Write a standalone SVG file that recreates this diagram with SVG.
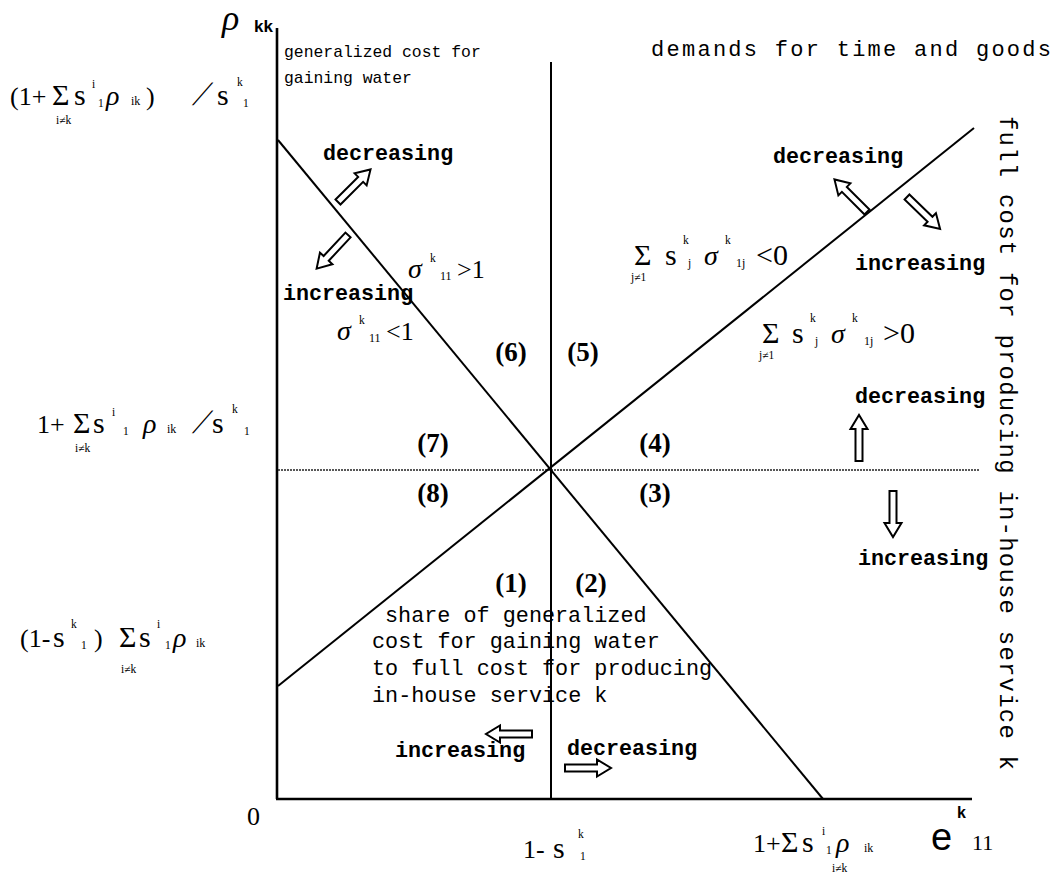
<svg xmlns="http://www.w3.org/2000/svg" xmlns:xlink="http://www.w3.org/1999/xlink" width="1061" height="878" viewBox="0 0 1061 878">
<style>
.ln{stroke:#000;stroke-width:2;fill:none}
.ax{stroke:#000;stroke-width:2.6;fill:none}
.dot{stroke:#222;stroke-width:1.3;stroke-dasharray:2 1;fill:none}
.arr{fill:#fff;stroke:#000;stroke-width:2;stroke-linejoin:miter}
.mono{font-family:"Liberation Mono",monospace;fill:#000}
.wd{font-family:"Liberation Mono",monospace;font-weight:bold;font-size:21.7px;fill:#000}
.cap{font-family:"Liberation Mono",monospace;font-size:21.8px;fill:#000}
.s{font-family:"Liberation Serif",serif;fill:#000}
.big{font-size:26px}
.sg{font-size:30px}
.it{font-style:italic;font-size:28px}
.sm{font-size:11.5px}
.reg{font-family:"Liberation Serif",serif;font-weight:bold;font-size:27px;text-anchor:middle;fill:#000}
.sans{font-family:"Liberation Sans",sans-serif;fill:#000}
</style>
<defs>
<path id="blk" d="M0,-3.5 H32 V-8.5 L46,0 L32,8.5 V3.5 H0 Z"/>
</defs>
<rect width="1061" height="878" fill="#fff"/>

<g id="connectors">
<line class="ax" x1="277" y1="28" x2="277" y2="799"/>
<line class="ax" x1="276" y1="799" x2="972" y2="799"/>
<line class="ln" x1="551" y1="62" x2="551" y2="799"/>
<line class="dot" x1="278" y1="470" x2="980" y2="470"/>
<line class="ln" x1="278" y1="140" x2="823" y2="799"/>
<line class="ln" x1="278" y1="686" x2="974" y2="128"/>
</g>

<g id="arrows">
<use xlink:href="#blk" class="arr" transform="translate(338,202) rotate(-45)"/>
<use xlink:href="#blk" class="arr" transform="translate(348,235) rotate(133)"/>
<use xlink:href="#blk" class="arr" transform="translate(867,212) rotate(-135)"/>
<use xlink:href="#blk" class="arr" transform="translate(907,197) rotate(44)"/>
<use xlink:href="#blk" class="arr" transform="translate(859,461) rotate(-90)"/>
<use xlink:href="#blk" class="arr" transform="translate(893,491) rotate(90)"/>
<use xlink:href="#blk" class="arr" transform="translate(532,734) rotate(180)"/>
<use xlink:href="#blk" class="arr" transform="translate(565,768)"/>
</g>

<g id="axis-y-label">
<text class="s" x="222" y="30" font-style="italic" font-size="36">ρ</text>
<text class="sans" x="254" y="32" font-weight="bold" font-size="17">kk</text>
</g>

<g id="axis-x-label">
<text class="sans" x="931" y="850" font-size="38">e</text>
<text class="sans" x="957" y="818" font-weight="bold" font-size="16">k</text>
<text class="s" x="972" y="850" font-size="22">11</text>
</g>

<g id="titles">
<text class="mono" x="284" y="57" font-size="16.4">generalized cost for</text>
<text class="mono" x="284" y="83" font-size="16.4">gaining water</text>
<text class="mono" x="651" y="56" font-size="22" textLength="400" lengthAdjust="spacing">demands for time and goods</text>
<text class="mono" font-size="24" transform="translate(1000,116) rotate(90)" textLength="654" lengthAdjust="spacing">full cost for producing in-house service k</text>
</g>

<g id="share-note">
<text class="cap" x="385" y="622">share of generalized</text>
<text class="cap" x="372" y="648">cost for gaining water</text>
<text class="cap" x="372" y="675">to full cost for producing</text>
<text class="cap" x="372" y="702">in-house service k</text>
</g>

<g id="direction-words">
<text class="wd" x="323" y="160">decreasing</text>
<text class="wd" x="283" y="300">increasing</text>
<text class="wd" x="773" y="163">decreasing</text>
<text class="wd" x="855" y="270">increasing</text>
<text class="wd" x="855" y="403">decreasing</text>
<text class="wd" x="858" y="565">increasing</text>
<text class="wd" x="395" y="757">increasing</text>
<text class="wd" x="567" y="755">decreasing</text>
</g>

<g id="regions">
<text class="reg" x="511" y="592">(1)</text>
<text class="reg" x="591" y="592">(2)</text>
<text class="reg" x="655" y="502">(3)</text>
<text class="reg" x="655" y="452">(4)</text>
<text class="reg" x="583" y="361">(5)</text>
<text class="reg" x="511" y="361">(6)</text>
<text class="reg" x="433" y="452">(7)</text>
<text class="reg" x="433" y="502">(8)</text>
</g>

<g id="y-values">
<g id="y1">
<text class="s big" x="10" y="105">(1+</text>
<text class="s sg" x="52" y="105">Σ</text>
<text class="s sg" x="74" y="105">s</text>
<text class="s sm" x="92" y="88">i</text>
<text class="s sm" x="98" y="107">1</text>
<text class="s it" x="106" y="105">ρ</text>
<text class="s" x="131" y="105" font-size="12">ik</text>
<text class="s big" x="146" y="105">)</text>
<text class="s" font-size="34" transform="translate(192,105) skewX(-28)">/</text>
<text class="s sg" x="217" y="105">s</text>
<text class="s sm" x="237" y="86">k</text>
<text class="s sm" x="243" y="107">1</text>
<text class="s sm" x="56" y="124">i≠k</text>
</g>
<g id="y2">
<text class="s big" x="37" y="433">1+</text>
<text class="s sg" x="73" y="433">Σ</text>
<text class="s sg" x="93" y="433">s</text>
<text class="s sm" x="112" y="416">i</text>
<text class="s sm" x="123" y="435">1</text>
<text class="s it" x="143" y="433">ρ</text>
<text class="s" x="167" y="433" font-size="12">ik</text>
<text class="s" font-size="34" transform="translate(192,433) skewX(-28)">/</text>
<text class="s sg" x="212" y="433">s</text>
<text class="s sm" x="232" y="413">k</text>
<text class="s sm" x="244" y="435">1</text>
<text class="s sm" x="75" y="452">i≠k</text>
</g>
<g id="y3">
<text class="s big" x="20" y="647">(1-</text>
<text class="s sg" x="53" y="647">s</text>
<text class="s sm" x="71" y="628">k</text>
<text class="s sm" x="81" y="649">1</text>
<text class="s big" x="94" y="647">)</text>
<text class="s sg" x="119" y="647">Σ</text>
<text class="s sg" x="139" y="647">s</text>
<text class="s sm" x="157" y="628">i</text>
<text class="s sm" x="165" y="649">1</text>
<text class="s it" x="173" y="647">ρ</text>
<text class="s" x="196" y="647" font-size="12">ik</text>
<text class="s sm" x="121" y="673">i≠k</text>
</g>
</g>

<g id="x-values">
<text class="s big" x="247" y="825">0</text>
<g id="x1">
<text class="s big" x="523" y="858">1-</text>
<text class="s sg" x="553" y="858">s</text>
<text class="s sm" x="578" y="838">k</text>
<text class="s sm" x="580" y="860">1</text>
</g>
<g id="x2">
<text class="s big" x="753" y="852">1+</text>
<text class="s sg" x="781" y="852">Σ</text>
<text class="s sg" x="802" y="852">s</text>
<text class="s sm" x="822" y="835">i</text>
<text class="s sm" x="826" y="854">1</text>
<text class="s it" x="836" y="852">ρ</text>
<text class="s" x="864" y="852" font-size="12">ik</text>
<text class="s sm" x="832" y="872">i≠k</text>
</g>
</g>

<g id="conditions">
<g id="c1">
<text class="s it" x="408" y="278">σ</text>
<text class="s sm" x="430" y="262">k</text>
<text class="s" x="440" y="280" font-size="12">11</text>
<text class="s big" x="457" y="278">&gt;1</text>
</g>
<g id="c2">
<text class="s it" x="337" y="340">σ</text>
<text class="s sm" x="359" y="324">k</text>
<text class="s" x="369" y="342" font-size="12">11</text>
<text class="s big" x="386" y="340">&lt;1</text>
</g>
<g id="c3">
<text class="s sg" x="634" y="265">Σ</text>
<text class="s sm" x="631" y="281">j≠1</text>
<text class="s sg" x="665" y="265">s</text>
<text class="s sm" x="683" y="244">k</text>
<text class="s sm" x="688" y="267">j</text>
<text class="s it" x="704" y="265">σ</text>
<text class="s sm" x="725" y="244">k</text>
<text class="s" x="736" y="267" font-size="12">1j</text>
<text class="s sg" x="756" y="265">&lt;0</text>
</g>
<g id="c4">
<text class="s sg" x="762" y="343">Σ</text>
<text class="s sm" x="759" y="359">j≠1</text>
<text class="s sg" x="792" y="343">s</text>
<text class="s sm" x="810" y="322">k</text>
<text class="s sm" x="815" y="345">j</text>
<text class="s it" x="831" y="343">σ</text>
<text class="s sm" x="852" y="322">k</text>
<text class="s" x="864" y="345" font-size="12">1j</text>
<text class="s sg" x="883" y="343">&gt;0</text>
</g>
</g>
</svg>
